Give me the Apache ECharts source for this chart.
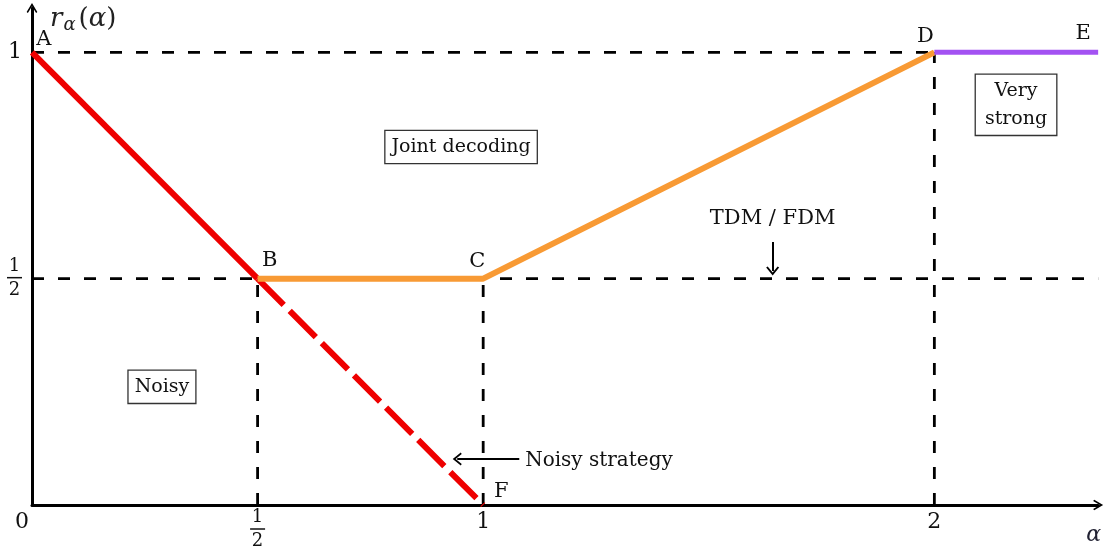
<!DOCTYPE html>
<html style="height: 100%">
<head>
    <meta charset="UTF-8">
    <script src="https://cdn.jsdelivr.net/npm/echarts@6/dist/echarts.min.js"></script>
    <style type="text/css">
        body { margin: 0; background: #ffffff; }
    </style>
</head>
<body>
    <div id="paint" style="width: 1104px; height: 556px;"></div>
<script>
    // axis ranges and tick labels
    var xMax = 2.363
    var yMax = 1.098
    var xTicks = [0, 0.5, 1, 2]
    var xTickLabels = ['0', '1/2', '1', '2']
    var yTicks = [0.5, 1]
    var yTickLabels = ['1/2', '1']

    // the corner points A..F of the curve
    var pointNames = ['A', 'B', 'C', 'D', 'E', 'F']
    var pointX = [0, 0.5, 1, 2, 2.363, 1]
    var pointY = [1, 0.5, 0.5, 1, 1, 0]
    // where the letters are written (data coords)
    var nameX = [0.026, 0.527, 0.987, 1.98, 2.33, 1.04]
    var nameY = [1.028, 0.541, 0.537, 1.034, 1.041, 0.029]

    // boxed region names
    var regionNames = ['Joint decoding', 'Noisy', 'Very\nstrong']
    var regionX = [0.951, 0.288, 2.181]
    var regionY = [0.791, 0.261, 0.884]

    // arrow notes: text, text position, arrow start, arrow end
    var noteText = ['TDM / FDM', 'Noisy strategy']
    var noteX = [1.6416, 1.093]
    var noteY = [0.632, 0.097]
    var arrowFrom = [[1.6416, 0.581], [1.08, 0.1017]]
    var arrowTo = [[1.6416, 0.517], [0.9425, 0.1017]]

    var serif = 'DejaVu Serif'
    var ink = '#111'
    var chevron = 'path://M0,10 L6,0 L12,10 L10.6,11.2 L6,3.6 L1.4,11.2 Z'

    function P(i) { return [pointX[i], pointY[i]] }

    function fracLabel(s) {
        if (s === '0') return '{z|0}'   // origin label sits a bit left of the corner
        if (s.indexOf('/') < 0) return '{t|' + s + '}'
        var p = s.split('/')
        return '{n|' + p[0] + '}\n{bar| }\n{d|' + p[1] + '}'
    }
    var fracRich = {
        t: {fontFamily: serif, fontSize: 22, color: ink, lineHeight: 26},
        z: {fontFamily: serif, fontSize: 22, color: ink, lineHeight: 26, padding: [0, 20, 0, 0]},
        n: {fontFamily: serif, fontSize: 18, color: ink, lineHeight: 17, align: 'center'},
        bar: {width: 15, height: 1.5, lineHeight: 6, backgroundColor: ink, align: 'center'},
        d: {fontFamily: serif, fontSize: 18, color: ink, lineHeight: 19, align: 'center'}
    }

    var dashed = {color: '#000', width: 2.8, type: [12, 14]}

    function straight(data, style, z) {
        return {type: 'line', data: data, symbol: 'none', lineStyle: style, z: z, silent: true}
    }

    var marks = []
    pointNames.forEach(function (n, i) {
        marks.push({value: [nameX[i], nameY[i]], name: n,
            label: {fontFamily: serif, fontSize: 21, color: ink}})
    })
    regionNames.forEach(function (n, i) {
        marks.push({value: [regionX[i], regionY[i]], name: n,
            label: {fontFamily: serif, fontSize: 19, color: ink, lineHeight: 28,
                borderColor: '#333', borderWidth: 1.3, backgroundColor: '#fff',
                padding: i === 2 ? [3, 9, 1, 9] : [3, 6, 1, 6]}})
    })
    noteText.forEach(function (n, i) {
        marks.push({value: [noteX[i], noteY[i]], name: n,
            label: {fontFamily: serif, fontSize: i === 1 ? 20 : 21, color: ink,
                align: i === 1 ? 'left' : 'center'}})
    })

    var tickLabelBase = {fontFamily: serif, fontSize: 22, color: ink, rich: fracRich}

    var chart = echarts.init(document.getElementById('paint'))
    chart.setOption({
        animation: false,
        backgroundColor: '#ffffff',
        grid: {left: 32, right: 4, top: 8, bottom: 51},
        xAxis: {
            type: 'value', min: 0, max: xMax,
            name: 'α',
            nameLocation: 'end',
            nameGap: -12,
            nameTextStyle: {fontFamily: serif, fontStyle: 'italic', fontSize: 22, color: '#223',
                verticalAlign: 'top', padding: [19, 0, 0, 0]},
            splitLine: {show: false},
            axisTick: {show: false},
            axisLine: {lineStyle: {color: '#000', width: 3}, symbol: ['none', chevron], symbolSize: [14, 10]},
            axisLabel: Object.assign({
                customValues: xTicks, margin: 4, showMinLabel: true, showMaxLabel: true,
                formatter: function (v) { return fracLabel(xTickLabels[xTicks.indexOf(v)]) }
            }, tickLabelBase)
        },
        yAxis: {
            type: 'value', min: 0, max: yMax,
            name: '{r|r}{s|α}{p|(}{a|α}{p|)}',
            nameLocation: 'end',
            nameGap: -11,
            nameTextStyle: {align: 'left', verticalAlign: 'middle', padding: [0, 0, 0, 18],
                rich: {
                    r: {fontFamily: serif, fontStyle: 'italic', fontSize: 26, color: '#222'},
                    s: {fontFamily: serif, fontStyle: 'italic', fontSize: 18, color: '#222', padding: [12, 3, 0, 1]},
                    p: {fontFamily: serif, fontSize: 26, color: '#222'},
                    a: {fontFamily: serif, fontStyle: 'italic', fontSize: 26, color: '#222'}
                }},
            splitLine: {show: false},
            axisTick: {show: false},
            axisLine: {lineStyle: {color: '#000', width: 3}, symbol: ['none', chevron], symbolSize: [14, 10]},
            axisLabel: Object.assign({
                customValues: yTicks, margin: 10, showMinLabel: true, showMaxLabel: true,
                formatter: function (v) { return fracLabel(yTickLabels[yTicks.indexOf(v)]) }
            }, tickLabelBase)
        },
        series: [
            // guide lines
            straight([[0, pointY[0]], P(3)], dashed, 1),
            straight([[0, pointY[1]], [xMax, pointY[1]]], dashed, 1),
            straight([[pointX[1], 0], P(1)], dashed, 1),
            straight([[pointX[2], 0], P(2)], dashed, 1),
            straight([[pointX[3], 0], P(3)], dashed, 1),
            // the curve
            straight([P(0), P(1)], {color: '#ee0000', width: 6, cap: 'butt'}, 3),
            straight([P(1), P(5)], {color: '#ee0000', width: 6, type: [37, 8.5]}, 3),
            straight([P(1), P(2), P(3)], {color: '#f89a34', width: 6, join: 'round'}, 4),
            straight([P(3), P(4)], {color: '#a352f2', width: 5}, 4),
            {
                type: 'scatter', symbolSize: 0, z: 6, silent: true,
                itemStyle: {opacity: 1},
                data: marks,
                label: {show: true, position: 'inside', formatter: function (p) { return p.name }},
                markLine: {
                    silent: true, animation: false,
                    symbol: ['none', chevron], symbolSize: [13, 9],
                    lineStyle: {color: '#000', width: 2, type: 'solid', opacity: 1},
                    label: {show: false},
                    data: arrowFrom.map(function (a, i) {
                        return [{coord: a}, {coord: arrowTo[i]}]
                    })
                }
            }
        ]
    });
</script>
</body>
</html>
